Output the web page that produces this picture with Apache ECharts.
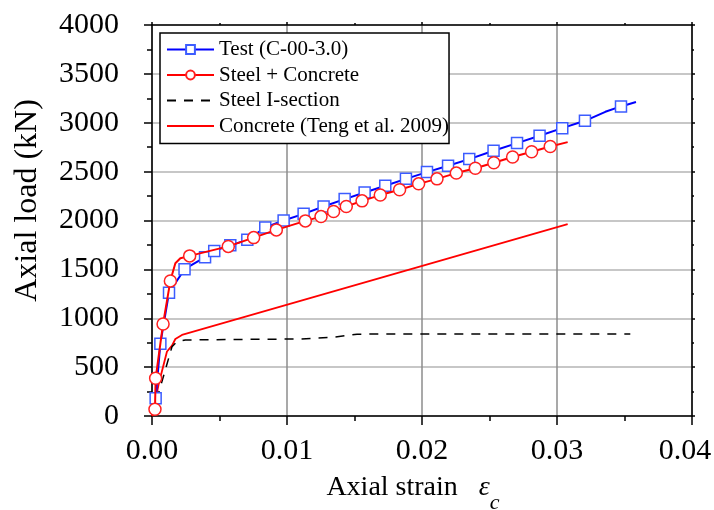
<!DOCTYPE html>
<html>
<head>
<meta charset="utf-8">
<script src="https://cdn.jsdelivr.net/npm/echarts@6/dist/echarts.min.js"></script>
<style>
  html, body { margin: 0; padding: 0; background: #fff; }
  #chart { width: 714px; height: 510px; }
</style>
</head>
<body>
<div id="chart"></div>
<script>
// Axis ticks
const xTicks = [0.00, 0.01, 0.02, 0.03, 0.04];
const yTicks = [0, 500, 1000, 1500, 2000, 2500, 3000, 3500, 4000];

// Series names
const seriesNames = ['Test (C-00-3.0)', 'Steel + Concrete', 'Steel I-section', 'Concrete (Teng et al. 2009)'];

// Test (C-00-3.0): axial strain / axial load (kN)
const testStrain = [0.00005, 0.00027, 0.00062, 0.00126, 0.00241, 0.00393, 0.00461, 0.0058, 0.00706, 0.00839,
  0.00975, 0.01123, 0.01271, 0.01427, 0.01575, 0.01728, 0.01881, 0.02037, 0.02193, 0.0235,
  0.0253, 0.02704, 0.02871, 0.03039, 0.03207, 0.03358, 0.03474, 0.03585];
const testLoad = [20, 181, 740, 1262, 1502, 1625, 1689, 1746, 1802, 1928,
  2000, 2068, 2143, 2219, 2286, 2355, 2426, 2495, 2560, 2628,
  2713, 2792, 2867, 2945, 3020, 3112, 3167, 3212];
const testUnmarked = [0, 25, 27];

// Steel + Concrete prediction
const scStrain = [0, 0.00022, 0.00027, 0.00082, 0.00136, 0.00148, 0.00173, 0.0021, 0.00279, 0.00565,
  0.00753, 0.00921, 0.01136, 0.01252, 0.01345, 0.01439, 0.01556, 0.01691, 0.01834, 0.01975,
  0.02111, 0.02254, 0.02395, 0.02532, 0.02671, 0.02812, 0.0295, 0.03079];
const scLoad = [0, 69, 386, 942, 1382, 1443, 1563, 1614, 1638, 1735,
  1825, 1904, 1996, 2040, 2092, 2143, 2201, 2260, 2314, 2375,
  2426, 2485, 2534, 2590, 2649, 2703, 2757, 2802];
const scUnmarked = [0, 5, 6, 7, 27];

// Steel I-section contribution
const steelStrain = [0, 0.00148, 0.00185, 0.00247, 0.00802, 0.011, 0.01345, 0.01519, 0.01716, 0.03543];
const steelLoad = [0, 709, 761, 778, 785, 788, 806, 836, 840, 840];

// Concrete contribution (Teng et al. 2009 model)
const concStrain = [0, 0.0005, 0.00111, 0.00148, 0.00173, 0.00222, 0.03079];
const concLoad = [0, 330, 660, 720, 788, 829, 1963];

const serif = 'Liberation Serif';

function points(xs, ys, unmarked) {
  return xs.map(function (x, i) {
    const item = { value: [x, ys[i]] };
    if (unmarked && unmarked.indexOf(i) >= 0) item.symbol = 'none';
    return item;
  });
}

const chart = echarts.init(document.getElementById('chart'), null, { renderer: 'canvas' });

const axisLineStyle = { color: '#000', width: 1.5 };
const tickFont = { fontFamily: serif, fontSize: 30, color: '#000' };

const option = {
  animation: false,
  backgroundColor: '#fff',
  grid: { left: 152, right: 22, top: 25, bottom: 94, outerBoundsMode: 'none' },
  legend: {
    // plain lines (no marker) for the two component curves
    data: [
      { name: seriesNames[0] },
      { name: seriesNames[1] },
      { name: seriesNames[2], itemStyle: { opacity: 0 } },
      { name: seriesNames[3], itemStyle: { opacity: 0 } }
    ],
    orient: 'vertical',
    left: 160,
    top: 33,
    padding: [6, 0, 7, 6],
    itemGap: 4.5,
    itemWidth: 47,
    itemHeight: 11,
    backgroundColor: '#fff',
    borderColor: '#000',
    borderWidth: 1.5,
    borderRadius: 0,
    textStyle: { fontFamily: serif, fontSize: 21, color: '#000', lineHeight: 21 }
  },
  xAxis: [
    {
      type: 'value',
      position: 'bottom',
      min: xTicks[0],
      max: xTicks[xTicks.length - 1],
      interval: xTicks[1] - xTicks[0],
      axisLine: { show: true, onZero: false, lineStyle: axisLineStyle },
      axisTick: { show: true, inside: false, length: 9, lineStyle: axisLineStyle },
      minorTick: { show: true, splitNumber: 2, length: 5, lineStyle: axisLineStyle },
      splitLine: { show: true, lineStyle: { color: '#8c8c8c', width: 1.5 } },
      axisLabel: {
        fontFamily: serif, fontSize: 30, color: '#000', margin: 20,
        formatter: function (v) {
          const k = xTicks.findIndex(function (t) { return Math.abs(t - v) < 1e-9; });
          if (k < 0) return '';
          const txt = xTicks[k].toFixed(2);
          return k === xTicks.length - 1 ? '{m|' + txt + '}' : txt;
        },
        rich: {
          m: Object.assign({ padding: [0, 14, 0, 0] }, tickFont)
        }
      },
      name: '{n|Axial strain }{e|ε}{s|c}',
      nameLocation: 'middle',
      nameGap: 58,
      nameMoveOverlap: false,
      nameTextStyle: {
        padding: [0, 18, 0, 0],
        rich: {
          n: { fontFamily: serif, fontSize: 28, color: '#000' },
          e: { fontFamily: serif, fontSize: 28, fontStyle: 'italic', color: '#000', padding: [0, 0, 0, 14] },
          s: { fontFamily: serif, fontSize: 22, fontStyle: 'italic', color: '#000', lineHeight: 22, padding: [30, 0, 0, 0] }
        }
      }
    },
    {
      type: 'value',
      position: 'top',
      min: xTicks[0],
      max: xTicks[xTicks.length - 1],
      interval: xTicks[1] - xTicks[0],
      axisLine: { show: true, onZero: false, lineStyle: axisLineStyle },
      axisTick: { show: true, inside: false, length: 3, lineStyle: axisLineStyle },
      minorTick: { show: true, splitNumber: 2, length: 2, lineStyle: axisLineStyle },
      splitLine: { show: false },
      axisLabel: { show: false }
    }
  ],
  yAxis: [
    {
      type: 'value',
      position: 'left',
      min: yTicks[0],
      max: yTicks[yTicks.length - 1],
      interval: yTicks[1] - yTicks[0],
      axisLine: { show: true, onZero: false, lineStyle: axisLineStyle },
      axisTick: { show: true, inside: false, length: 8, lineStyle: axisLineStyle },
      minorTick: { show: true, splitNumber: 2, length: 5, lineStyle: axisLineStyle },
      splitLine: { show: true, lineStyle: { color: '#b4b4b4', width: 1.5 } },
      axisLabel: {
        fontFamily: serif, fontSize: 30, color: '#000', margin: 33,
        padding: [0, 0, 8, 0],
        formatter: function (v) {
          const k = yTicks.indexOf(v);
          return k >= 0 ? String(yTicks[k]) : '';
        }
      },
      name: 'Axial load (kN)',
      nameLocation: 'middle',
      nameGap: 108,
      nameMoveOverlap: false,
      nameTextStyle: { fontFamily: serif, fontSize: 32, color: '#000', padding: [0, 0, 0, 40] }
    },
    {
      type: 'value',
      position: 'right',
      min: yTicks[0],
      max: yTicks[yTicks.length - 1],
      interval: yTicks[1] - yTicks[0],
      axisLine: { show: true, onZero: false, lineStyle: axisLineStyle },
      axisTick: { show: true, inside: false, length: 3, lineStyle: axisLineStyle },
      minorTick: { show: true, splitNumber: 2, length: 2, lineStyle: axisLineStyle },
      splitLine: { show: false },
      axisLabel: { show: false }
    }
  ],
  series: [
    {
      name: seriesNames[3],
      type: 'line',
      z: 2,
      data: points(concStrain, concLoad),
      symbol: 'none',
      lineStyle: { color: '#ff0000', width: 1.8 },
      itemStyle: { color: '#ff0000' }
    },
    {
      name: seriesNames[2],
      type: 'line',
      z: 2,
      data: points(steelStrain, steelLoad),
      symbol: 'none',
      lineStyle: { color: '#000', width: 1.5, type: [9, 8] },
      itemStyle: { color: '#000' }
    },
    {
      name: seriesNames[0],
      type: 'line',
      z: 3,
      data: points(testStrain, testLoad, testUnmarked),
      symbol: 'rect',
      symbolSize: 11,
      showAllSymbol: true,
      lineStyle: { color: '#0000ff', width: 2 },
      itemStyle: { color: '#ffffff', borderColor: '#3c5cff', borderWidth: 1.5 }
    },
    {
      name: seriesNames[1],
      type: 'line',
      z: 4,
      data: points(scStrain, scLoad, scUnmarked),
      symbol: 'circle',
      symbolSize: 12,
      showAllSymbol: true,
      lineStyle: { color: '#ff0000', width: 2 },
      itemStyle: { color: '#ffffff', borderColor: '#ff2020', borderWidth: 1.5 }
    }
  ]
};

chart.setOption(option);
</script>
</body>
</html>
